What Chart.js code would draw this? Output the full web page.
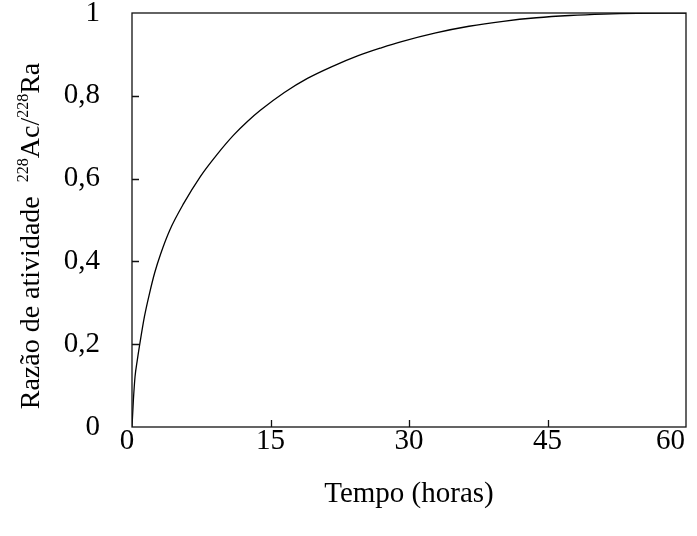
<!DOCTYPE html>
<html>
<head>
<meta charset="utf-8">
<script src="https://cdn.jsdelivr.net/npm/chart.js@4.4.0/dist/chart.umd.min.js"></script>
<style>
  html, body { margin: 0; padding: 0; background: #fff; }
</style>
</head>
<body>
<canvas id="grafico" width="697" height="536"></canvas>
<script>
'use strict';

// tempo (h) e razao de atividade
const tempo = [0, 0.15, 0.33, 0.55, 0.84, 1.35, 1.9, 2.45, 3.1, 4.1, 5.6, 7.4, 9.2, 11.0, 12.5,
  13.9, 16.5, 19.0, 21.6, 24.5, 27.0, 29.2, 32.9, 36.5, 40.2, 43.8, 47.4, 51.1, 54.7, 60];
const razao = [0, 0.065, 0.122, 0.158, 0.2, 0.267, 0.323, 0.372, 0.418, 0.476, 0.540, 0.605, 0.658, 0.705, 0.738,
  0.765, 0.808, 0.842, 0.870, 0.897, 0.916, 0.931, 0.952, 0.968, 0.980, 0.9885, 0.994, 0.9975, 0.9993, 1.0];

const xTicks = [0, 15, 30, 45, 60];
const yTicks = [0, 0.2, 0.4, 0.6, 0.8, 1];
const xTitle = 'Tempo (horas)';
// [texto, sobrescrito?]
const yTitle = [['Razão de atividade  ', false], ['228', true], ['Ac/', false], ['228', true], ['Ra', false]];

const fonte = '"Liberation Serif", "Times New Roman", serif';

function rotulo(v) {
  if (v === 0) return '0';
  if (v === 1) return '1';
  return v.toFixed(1).replace('.', ',');
}

////////////////// moldura, tracos internos e titulos //////////////////
const moldura = {
  id: 'moldura',
  afterDraw(chart) {
    const ctx = chart.ctx;
    const area = chart.chartArea;
    const sx = chart.scales.x;
    const sy = chart.scales.y;
    ctx.save();
    ctx.strokeStyle = '#111';
    ctx.lineWidth = 1.3;
    ctx.strokeRect(area.left, area.top, area.right - area.left, area.bottom - area.top);

    // tracos para dentro
    ctx.beginPath();
    for (let i = 1; i < xTicks.length - 1; i++) {
      const px = Math.round(sx.getPixelForValue(xTicks[i])) + 0.5;
      ctx.moveTo(px, area.bottom);
      ctx.lineTo(px, area.bottom - 7);
    }
    for (let i = 1; i < yTicks.length - 1; i++) {
      const py = Math.round(sy.getPixelForValue(yTicks[i])) + 0.5;
      ctx.moveTo(area.left, py);
      ctx.lineTo(area.left + 7, py);
    }
    ctx.stroke();

    // rotulos do eixo x (o ultimo fica dentro da figura, como no Excel)
    ctx.fillStyle = '#000';
    ctx.font = '29px ' + fonte;
    ctx.textBaseline = 'middle';
    for (let i = 0; i < xTicks.length; i++) {
      const px = sx.getPixelForValue(xTicks[i]);
      if (i === xTicks.length - 1) {
        ctx.textAlign = 'right';
        ctx.fillText(String(xTicks[i]), area.right - 1, area.bottom + 14);
      } else {
        ctx.textAlign = 'center';
        ctx.fillText(String(xTicks[i]), px - (i === 0 ? 5 : 0), area.bottom + 14);
      }
    }

    // titulo x
    ctx.textAlign = 'center';
    ctx.fillText(xTitle, (area.left + area.right) / 2, 494);

    // titulo y com sobrescritos
    ctx.translate(39, 236);
    ctx.rotate(-Math.PI / 2);
    ctx.textAlign = 'left';
    ctx.textBaseline = 'alphabetic';
    let total = 0;
    for (const [txt, sup] of yTitle) {
      ctx.font = (sup ? '16px ' : '28px ') + fonte;
      total += ctx.measureText(txt).width;
    }
    let x = -total / 2;
    for (const [txt, sup] of yTitle) {
      ctx.font = (sup ? '16px ' : '28px ') + fonte;
      ctx.fillText(txt, x, sup ? -11 : 0);
      x += ctx.measureText(txt).width;
    }
    ctx.restore();
  }
};

const ctx = document.getElementById('grafico').getContext('2d');
const grafico = new Chart(ctx, {
  type: 'line',
  data: {
    datasets: [{
      data: tempo.map((t, i) => ({ x: t, y: razao[i] })),
      borderColor: '#000',
      borderWidth: 1.3,
      pointRadius: 0,
      fill: false,
      cubicInterpolationMode: 'monotone'
    }]
  },
  options: {
    responsive: false,
    animation: false,
    devicePixelRatio: 1,
    layout: { autoPadding: false, padding: { top: 13, right: 11, left: 0, bottom: 0 } },
    plugins: { legend: { display: false }, tooltip: { enabled: false } },
    scales: {
      x: {
        type: 'linear',
        min: 0,
        max: 60,
        grid: { display: false, drawTicks: false },
        border: { display: false },
        ticks: { display: false },
        afterFit(s) { s.height = 109; s.paddingLeft = 0; s.paddingRight = 0; }
      },
      y: {
        min: 0,
        max: 1,
        grid: { display: false, drawTicks: false },
        border: { display: false },
        ticks: {
          stepSize: 0.2,
          padding: 32,
          color: '#000',
          font: { family: fonte, size: 29 },
          callback: v => rotulo(v)
        },
        afterFit(s) { s.width = 132; s.paddingTop = 0; s.paddingBottom = 0; }
      }
    }
  },
  plugins: [moldura]
});
</script>
</body>
</html>
